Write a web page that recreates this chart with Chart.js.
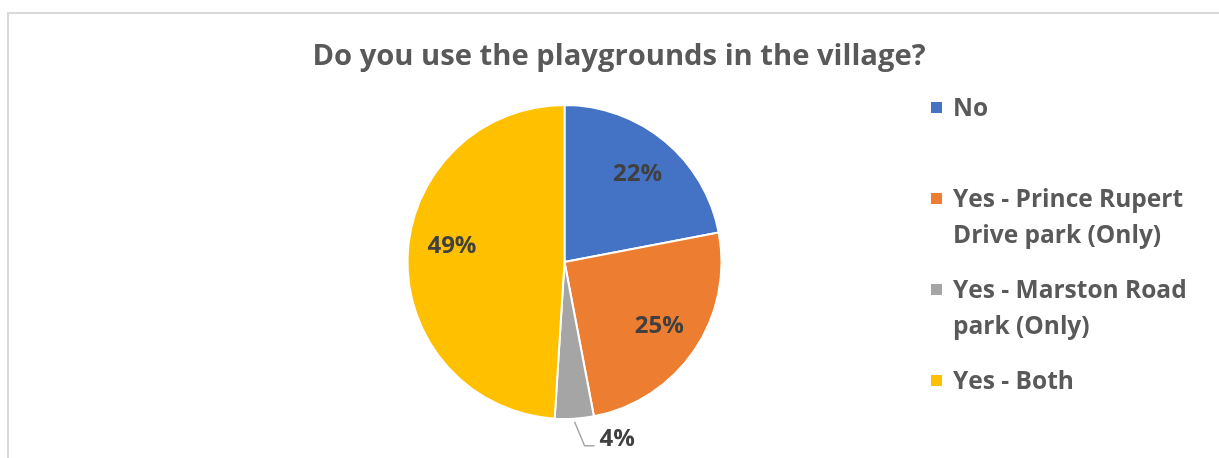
<!DOCTYPE html>
<html>
<head>
<meta charset="utf-8">
<script src="https://cdn.jsdelivr.net/npm/chart.js@4.4.1/dist/chart.umd.min.js"></script>
<style>
  html, body { margin: 0; padding: 0; background: #ffffff; }
  canvas { display: block; }
</style>
</head>
<body>
<canvas id="chart" width="1219" height="458"></canvas>
<script>
// Survey answers and their shares (percent)
const categories = ['No', 'Yes - Prince Rupert Drive park (Only)', 'Yes - Marston Road park (Only)', 'Yes - Both'];
const legendLines = [['No'], ['Yes - Prince Rupert', 'Drive park (Only)'], ['Yes - Marston Road', 'park (Only)'], ['Yes - Both']];
const shares = [22, 25, 4, 49];
const sliceColors = ['#4472C4', '#ED7D31', '#A5A5A5', '#FFC000'];
const chartTitle = 'Do you use the playgrounds in the village?';

const FONT = '"Open Sans", "Noto Sans", sans-serif';

// Light frame along the top and left edges
const framePlugin = {
  id: 'frame',
  beforeDraw(chart) {
    const ctx = chart.ctx;
    ctx.save();
    ctx.strokeStyle = '#D9D9D9';
    ctx.lineWidth = 2;
    ctx.beginPath();
    ctx.moveTo(8, chart.height);
    ctx.lineTo(8, 13);
    ctx.lineTo(chart.width, 13);
    ctx.stroke();
    ctx.restore();
  }
};

// Title text above the pie
const titlePlugin = {
  id: 'titleText',
  afterDraw(chart) {
    const ctx = chart.ctx;
    ctx.save();
    ctx.font = 'bold 29.2px ' + FONT;
    ctx.fillStyle = '#595959';
    ctx.textAlign = 'center';
    ctx.textBaseline = 'alphabetic';
    ctx.fillText(chartTitle, 619, 65);
    ctx.restore();
  }
};

// Percentage labels: inside the slice, or outside with a leader line for thin slices
const sliceLabelPlugin = {
  id: 'sliceLabels',
  afterDatasetsDraw(chart, args, opts) {
    const ctx = chart.ctx;
    const meta = chart.getDatasetMeta(0);
    const values = chart.data.datasets[0].data;
    const total = values.reduce((a, b) => a + b, 0);
    const nudge = opts.nudge || {};
    ctx.save();
    ctx.font = 'bold 24px ' + FONT;
    ctx.fillStyle = '#404040';
    ctx.textBaseline = 'middle';
    meta.data.forEach((arc, i) => {
      const p = arc.getProps(['x', 'y', 'startAngle', 'endAngle', 'outerRadius'], true);
      const mid = (p.startAngle + p.endAngle) / 2;
      const text = Math.round(values[i] / total * 100) + '%';
      const [dx, dy] = nudge[i] || [0, 0];
      if (values[i] / total < 0.08) {
        const r0 = p.outerRadius + 3;
        const sx = p.x + Math.cos(mid) * r0;
        const sy = p.y + Math.sin(mid) * r0;
        const ex = sx + 10;
        const ey = sy + 24;
        ctx.strokeStyle = '#A6A6A6';
        ctx.lineWidth = 1.5;
        ctx.beginPath();
        ctx.moveTo(sx, sy);
        ctx.lineTo(ex, ey);
        ctx.lineTo(ex + 10, ey);
        ctx.stroke();
        ctx.textAlign = 'left';
        ctx.fillText(text, ex + 15 + dx, ey - 7 + dy);
      } else {
        const r = p.outerRadius * 0.73;
        ctx.textAlign = 'center';
        ctx.fillText(text, p.x + Math.cos(mid) * r + dx, p.y + Math.sin(mid) * r + dy);
      }
    });
    ctx.restore();
  }
};

// Legend on the right, with wrapped entries spaced evenly
const legendPlugin = {
  id: 'sideLegend',
  afterDraw(chart) {
    const ctx = chart.ctx;
    const colors = chart.data.datasets[0].backgroundColor;
    ctx.save();
    ctx.font = 'bold 24.5px ' + FONT;
    ctx.textAlign = 'left';
    ctx.textBaseline = 'alphabetic';
    const firstBaseline = 116, step = 91, lineGap = 36, capH = 17;
    chart.data.labels.forEach((label, i) => {
      const base = firstBaseline + i * step;
      ctx.fillStyle = colors[i];
      ctx.fillRect(931, base - capH / 2 - 5.5, 11, 11);
      ctx.fillStyle = '#595959';
      legendLines[i].forEach((line, j) => {
        ctx.fillText(line, 953, base + j * lineGap);
      });
    });
    ctx.restore();
  }
};

new Chart(document.getElementById('chart'), {
  type: 'pie',
  data: {
    labels: categories,
    datasets: [{
      data: shares,
      backgroundColor: sliceColors,
      borderColor: '#FFFFFF',
      borderWidth: 2
    }]
  },
  options: {
    responsive: false,
    animation: false,
    layout: { padding: { top: 104, bottom: 38, left: 364, right: 454 } },
    plugins: {
      legend: { display: false },
      title: { display: false },
      tooltip: { enabled: false },
      sliceLabels: { nudge: { 3: [2, -12] } }
    }
  },
  plugins: [framePlugin, titlePlugin, sliceLabelPlugin, legendPlugin]
});
</script>
</body>
</html>
